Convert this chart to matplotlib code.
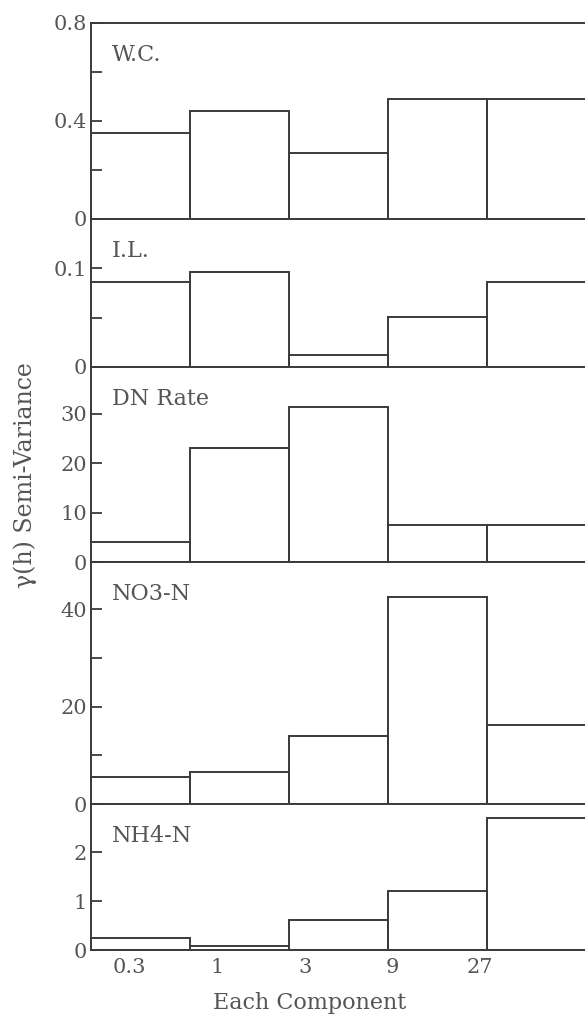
"""
Semi-variance per component, stacked bar panels
"""

import matplotlib.pyplot as plt
from matplotlib.ticker import MultipleLocator

plt.rcParams['font.family'] = ['DejaVu Serif']

# data
components = ['0.3', '1', '3', '9', '27']
wc = [0.351, 0.441, 0.269, 0.490, 0.490]
il = [0.086, 0.096, 0.012, 0.051, 0.086]
dn_rate = [4.0, 23.1, 31.4, 7.5, 7.5]
no3_n = [5.5, 6.6, 14.0, 42.5, 16.2]
nh4_n = [0.245, 0.08, 0.61, 1.2, 2.69]

panels = [
    ('W.C.', wc, 0.8, 0.4, 0.2, '{:.1f}'),
    ('I.L.', il, 0.1495, 0.1, 0.05, '{:.1f}'),
    ('DN Rate', dn_rate, 39.5, 10, 10, '{:.0f}'),
    ('NO3-N', no3_n, 49.7, 20, 10, '{:.0f}'),
    ('NH4-N', nh4_n, 2.98, 1, 1, '{:.0f}'),
]

# panel boundaries in pixels (top, bottom)
W, H = 585, 1015
bounds = [(23, 219), (219, 367), (367, 562), (562, 804), (804, 950)]
left_px = 91
ax_w = W - left_px

line_col = '#3a3a3a'
text_col = '#555555'

fig = plt.figure(figsize=(W / 100, H / 100), dpi=100)

for (name, vals, ymax, major, minor, fmt), (top, bot) in zip(panels, bounds):
    ax = fig.add_axes([left_px / W, 1 - bot / H, ax_w / W, (bot - top) / H])
    ax.patch.set_visible(False)
    x = list(range(len(components)))
    ax.bar(x, vals, width=1.0, fill=False, edgecolor=line_col, linewidth=1.4)

    ax.yaxis.set_major_locator(MultipleLocator(major))
    ax.yaxis.set_minor_locator(MultipleLocator(minor))
    ax.set_xlim(-0.5, 4.49)
    ticks = [i * major for i in range(int(ymax / major + 1e-6) + 1)]
    ax.set_yticks(ticks)
    ax.set_yticklabels(['0' if t == 0 else fmt.format(t) for t in ticks])
    ax.set_ylim(0, ymax)
    ax.tick_params(axis='y', which='both', direction='in', length=8, width=1.3,
                   color=line_col, labelcolor=text_col, labelsize=15, pad=3)
    ax.tick_params(axis='x', length=0, labelcolor=text_col, labelsize=15, pad=6)

    for s in ['left', 'bottom', 'top']:
        ax.spines[s].set_color(line_col)
        ax.spines[s].set_linewidth(1.4)
    ax.spines['right'].set_visible(False)
    if top != bounds[0][0]:
        ax.spines['top'].set_visible(False)

    ax.annotate(name, xy=(0, 1), xycoords='axes fraction', xytext=(15, -23),
                textcoords='offset points', va='center', ha='left',
                fontsize=16, color=text_col)
    if name != 'NH4-N':
        ax.set_xticks([])
    else:
        # the printed labels sit slightly left of the bar centres
        ax.set_xticks([-0.11 + 0.885 * i for i in x])
        ax.set_xticklabels(components)
        ax.set_xlabel('Each Component', fontsize=16, color=text_col)
        ax.xaxis.set_label_coords((310 - left_px) / ax_w, -0.29)

fig.text(25 / W, 1 - 475 / H, 'γ(h) Semi-Variance', rotation=90, va='center',
         ha='center', fontsize=17, color=text_col)

plt.savefig('out.png', dpi=100)
